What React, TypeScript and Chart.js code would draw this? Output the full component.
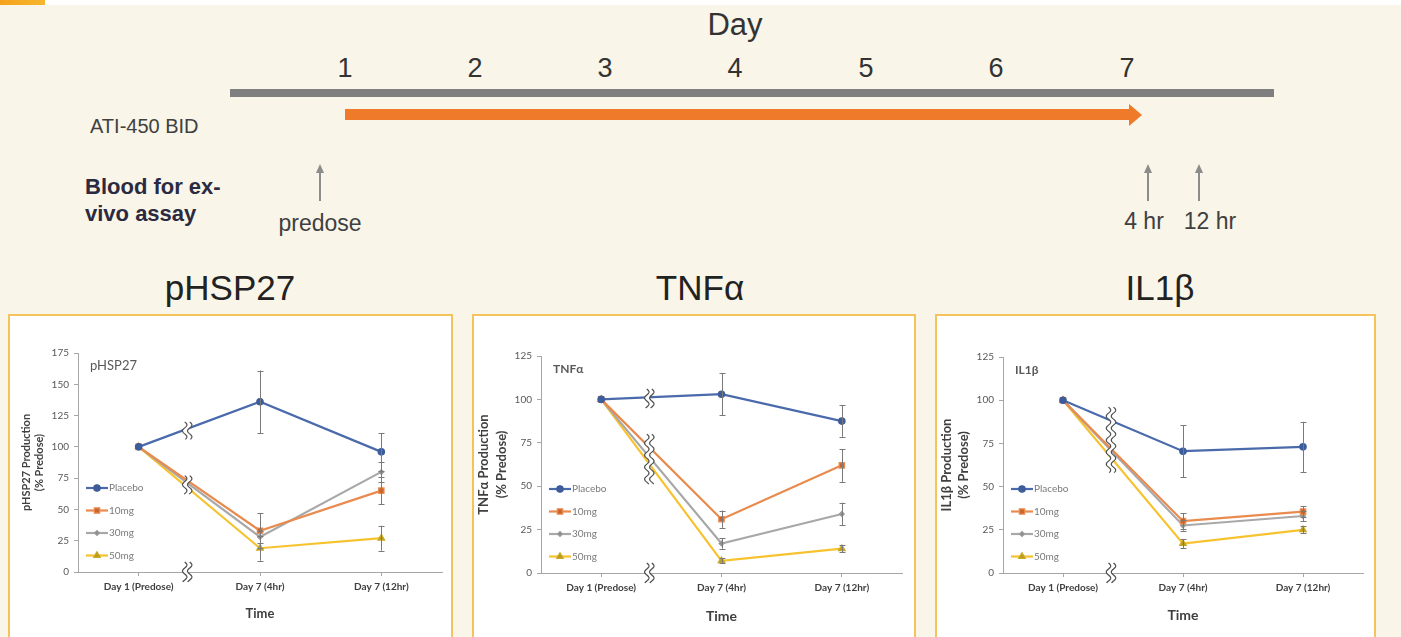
import React, { useEffect, useRef } from 'react';
import { Chart, registerables } from 'chart.js';
import { drawPoint } from 'chart.js/helpers';

Chart.register(...registerables);

// ---------- data ----------
const timePoints = ['Day 1 (Predose)', 'Day 7 (4hr)', 'Day 7 (12hr)'];
const doseGroups = ['Placebo', '10mg', '30mg', '50mg'];
const timelineDays = ['1', '2', '3', '4', '5', '6', '7'];

const pHSP27Placebo = [100, 136, 96];
const pHSP27Dose10 = [100, 33, 65];
const pHSP27Dose30 = [100, 28, 80];
const pHSP27Dose50 = [100, 19, 27];
const pHSP27PlaceboErr = [0, 25, 15];
const pHSP27Dose10Err = [0, 14, 11];
const pHSP27Dose30Err = [0, 5, 8];
const pHSP27Dose50Err = [0, 10, 10];

const tnfPlacebo = [100, 103, 87.5];
const tnfDose10 = [100, 31, 62];
const tnfDose30 = [100, 17, 34];
const tnfDose50 = [100, 7, 14];
const tnfPlaceboErr = [0, 12, 9];
const tnfDose10Err = [0, 5, 9.5];
const tnfDose30Err = [0, 3, 6.5];
const tnfDose50Err = [0, 1.5, 2];

const il1Placebo = [100, 70.5, 73];
const il1Dose10 = [100, 30, 35.5];
const il1Dose30 = [100, 27.5, 33];
const il1Dose50 = [100, 17, 25];
const il1PlaceboErr = [0, 15, 14.5];
const il1Dose10Err = [0, 4.5, 3];
const il1Dose30Err = [0, 3, 3];
const il1Dose50Err = [0, 2.5, 2];

// ---------- styles ----------
const lineColors = ['#4a6aab', '#e98a4e', '#a8a8a8', '#f6c22e'];
const markerFill = ['#3d5c9c', '#c9662e', '#8c8c8c', '#b89c20'];
const markerBorder = ['#3d5c9c', '#ea8c50', '#9a9a9a', '#c9a825'];
const pointStyles = ['circle', 'rect', 'rectRot', 'triangle'];
const pointRadii = [3.2, 3.8, 2.4, 3.8];
const chartFont = 'Lato, "Noto Sans", sans-serif';
const slideFont = '"Liberation Sans", Arial, sans-serif';

type PanelSpec = {
  left: number;
  width: number;
  plotL: number;
  plotR: number;
  plotT: number;
  plotB: number;
  yMax: number;
  innerTitle: string;
  innerBold: boolean;
  innerSize: number;
  yTitle: string[];
  yTitleSize: number;
  yTitleLH: number;
  yTitlePad: number;
  xTitleSize: number;
  xTitlePad: number;
  values: number[][];
  errors: number[][];
  breaks: number[][];
};

const panels: PanelSpec[] = [
  {
    left: 8, width: 445, plotL: 78, plotR: 442, plotT: 353, plotB: 572, yMax: 175,
    innerTitle: 'pHSP27', innerBold: false, innerSize: 13,
    yTitle: ['pHSP27 Production', '(% Predose)'], yTitleSize: 11, yTitleLH: 1.2, yTitlePad: 10,
    xTitleSize: 13, xTitlePad: 15,
    values: [pHSP27Placebo, pHSP27Dose10, pHSP27Dose30, pHSP27Dose50],
    errors: [pHSP27PlaceboErr, pHSP27Dose10Err, pHSP27Dose30Err, pHSP27Dose50Err],
    breaks: [[106, 120], [62, 77]],
  },
  {
    left: 472, width: 444, plotL: 541, plotR: 902, plotT: 356, plotB: 573, yMax: 125,
    innerTitle: 'TNF\u03b1', innerBold: true, innerSize: 12,
    yTitle: ['TNF\u03b1 Production', '(% Predose)'], yTitleSize: 13, yTitleLH: 1.35, yTitlePad: 1,
    xTitleSize: 14, xTitlePad: 12,
    values: [tnfPlacebo, tnfDose10, tnfDose30, tnfDose50],
    errors: [tnfPlaceboErr, tnfDose10Err, tnfDose30Err, tnfDose50Err],
    breaks: [[95, 106], [51, 80]],
  },
  {
    left: 935, width: 441, plotL: 1003, plotR: 1363, plotT: 357, plotB: 573, yMax: 125,
    innerTitle: 'IL1\u03b2', innerBold: true, innerSize: 12,
    yTitle: ['IL1\u03b2 Production', '(% Predose)'], yTitleSize: 13, yTitleLH: 1.3, yTitlePad: 1,
    xTitleSize: 14, xTitlePad: 13,
    values: [il1Placebo, il1Dose10, il1Dose30, il1Dose50],
    errors: [il1PlaceboErr, il1Dose10Err, il1Dose30Err, il1Dose50Err],
    breaks: [[58, 96]],
  },
];

const PANEL_TOP = 314;
const CANVAS_TOP = 316;
const CANVAS_H = 321;
const BREAK_FRAC = 0.4;

function drawBreak(ctx: CanvasRenderingContext2D, x: number, yTop: number, yBot: number) {
  const amp = 2.2;
  const period = 12;
  const gap = 5;
  const curve = (dx: number) => {
    const pts: number[][] = [];
    for (let y = yTop; y <= yBot + 0.01; y += 0.5) {
      pts.push([x + dx + amp * Math.sin(((y - yTop) / period) * 2 * Math.PI), y]);
    }
    return pts;
  };
  const a = curve(-gap / 2);
  const b = curve(gap / 2);
  ctx.save();
  ctx.beginPath();
  a.forEach(([px, py], i) => (i ? ctx.lineTo(px, py) : ctx.moveTo(px, py)));
  for (let i = b.length - 1; i >= 0; i--) ctx.lineTo(b[i][0], b[i][1]);
  ctx.closePath();
  ctx.fillStyle = '#ffffff';
  ctx.fill();
  ctx.strokeStyle = '#4d4d4d';
  ctx.lineWidth = 1.2;
  [a, b].forEach((arr) => {
    ctx.beginPath();
    arr.forEach(([px, py], i) => (i ? ctx.lineTo(px, py) : ctx.moveTo(px, py)));
    ctx.stroke();
  });
  ctx.restore();
}

const decorPlugin = {
  id: 'decor',
  afterDatasetsDraw(chart: any, _args: any, opts: any) {
    const ctx: CanvasRenderingContext2D = chart.ctx;
    const { chartArea } = chart;
    const xs = chart.scales.x;
    const ys = chart.scales.y;
    // error bars
    ctx.save();
    ctx.strokeStyle = '#7a7a7a';
    ctx.lineWidth = 1;
    chart.data.datasets.forEach((ds: any, i: number) => {
      const errs: number[] = opts.errors[i];
      const meta = chart.getDatasetMeta(i);
      ds.data.forEach((v: number, j: number) => {
        const e = errs[j];
        if (!e) return;
        const x = Math.round(meta.data[j].x) + 0.5;
        const y1 = ys.getPixelForValue(v + e);
        const y2 = ys.getPixelForValue(v - e);
        ctx.beginPath();
        ctx.moveTo(x, y1);
        ctx.lineTo(x, y2);
        ctx.moveTo(x - 3, Math.round(y1) + 0.5);
        ctx.lineTo(x + 3, Math.round(y1) + 0.5);
        ctx.moveTo(x - 3, Math.round(y2) + 0.5);
        ctx.lineTo(x + 3, Math.round(y2) + 0.5);
        ctx.stroke();
      });
    });
    ctx.restore();
    // axis breaks
    const x0 = xs.getPixelForValue(0);
    const x1 = xs.getPixelForValue(1);
    const bx = x0 + (x1 - x0) * BREAK_FRAC;
    opts.breaks.forEach(([lo, hi]: number[]) => {
      drawBreak(ctx, bx, ys.getPixelForValue(hi), ys.getPixelForValue(lo));
    });
    drawBreak(ctx, bx, chartArea.bottom - 10, chartArea.bottom + 10);
    // inner title
    ctx.save();
    ctx.fillStyle = '#595959';
    ctx.font = `${opts.innerBold ? 'bold ' : ''}${opts.innerSize}px ${chartFont}`;
    ctx.textBaseline = 'middle';
    ctx.textAlign = 'left';
    ctx.fillText(opts.innerTitle, chartArea.left + 12, chartArea.top + 13);
    ctx.restore();
    // legend
    ctx.save();
    chart.data.datasets.forEach((ds: any, i: number) => {
      const y = chartArea.bottom - 84 + i * 22.5;
      const lx = chartArea.left + 8;
      ctx.strokeStyle = ds.borderColor;
      ctx.lineWidth = 2.2;
      ctx.beginPath();
      ctx.moveTo(lx, y);
      ctx.lineTo(lx + 22, y);
      ctx.stroke();
      ctx.fillStyle = ds.pointBackgroundColor;
      ctx.strokeStyle = ds.pointBorderColor;
      ctx.lineWidth = 1.2;
      drawPoint(ctx, { pointStyle: ds.pointStyle, radius: ds.pointRadius, rotation: 0, borderWidth: 1.2 }, lx + 11, y);
      ctx.fillStyle = '#7a7a7a';
      ctx.font = `10px ${chartFont}`;
      ctx.textBaseline = 'middle';
      ctx.textAlign = 'left';
      ctx.fillText(ds.label, lx + 23, y);
    });
    ctx.restore();
  },
};

function Panel({ spec }: { spec: PanelSpec }) {
  const ref = useRef<HTMLCanvasElement>(null);
  const cl = spec.left + 2;
  const cw = spec.width - 4;
  useEffect(() => {
    if (!ref.current) return;
    const chart = new Chart(ref.current, {
      type: 'line',
      data: {
        labels: timePoints,
        datasets: doseGroups.map((g, i) => ({
          label: g,
          data: spec.values[i],
          borderColor: lineColors[i],
          backgroundColor: markerFill[i],
          pointBackgroundColor: markerFill[i],
          pointBorderColor: markerBorder[i],
          pointStyle: pointStyles[i] as any,
          pointRadius: pointRadii[i],
          pointBorderWidth: 1.2,
          borderWidth: 2.2,
          tension: 0,
        })),
      },
      options: {
        responsive: false,
        animation: false,
        events: [],
        layout: {
          padding: { top: spec.plotT - CANVAS_TOP, right: cl + cw - spec.plotR, left: 0, bottom: 0 },
        },
        plugins: {
          legend: { display: false },
          tooltip: { enabled: false },
          title: { display: false },
          decor: {
            errors: spec.errors,
            breaks: spec.breaks,
            innerTitle: spec.innerTitle,
            innerBold: spec.innerBold,
            innerSize: spec.innerSize,
          },
        } as any,
        scales: {
          x: {
            type: 'category',
            offset: true,
            grid: { drawOnChartArea: false, drawTicks: true, tickLength: 4, color: '#a6a6a6' },
            border: { color: '#a6a6a6', width: 1 },
            ticks: {
              font: { family: chartFont, size: 10, weight: 'bold' },
              color: '#404040',
              padding: 5,
              maxRotation: 0,
              autoSkip: false,
            },
            title: {
              display: true,
              text: 'Time',
              font: { family: chartFont, size: spec.xTitleSize, weight: 'bold' },
              color: '#404040',
              padding: { top: 0, bottom: spec.xTitlePad },
            },
            afterFit: (s: any) => {
              s.height = CANVAS_TOP + CANVAS_H - spec.plotB;
            },
          },
          y: {
            min: 0,
            max: spec.yMax,
            ticks: {
              stepSize: 25,
              font: { family: chartFont, size: 10 },
              color: '#595959',
              padding: 5,
            },
            grid: { drawOnChartArea: false, drawTicks: true, tickLength: 4, color: '#a6a6a6' },
            border: { color: '#a6a6a6', width: 1 },
            title: {
              display: true,
              text: spec.yTitle,
              font: { family: chartFont, size: spec.yTitleSize, weight: 'bold', lineHeight: spec.yTitleLH },
              color: '#404040',
              padding: { top: spec.yTitlePad, bottom: 0 },
            },
            afterFit: (s: any) => {
              s.width = spec.plotL - cl;
            },
          },
        },
      },
      plugins: [decorPlugin],
    });
    return () => chart.destroy();
  }, []);
  return (
    <>
      <div
        style={{
          position: 'absolute',
          left: spec.left,
          top: PANEL_TOP,
          width: spec.width,
          height: 340,
          boxSizing: 'border-box',
          border: '2px solid #f5c35c',
          background: '#ffffff',
        }}
      />
      <canvas
        ref={ref}
        width={cw}
        height={CANVAS_H}
        style={{ position: 'absolute', left: cl, top: CANVAS_TOP, width: cw, height: CANVAS_H }}
      />
    </>
  );
}

function Txt(props: {
  x: number;
  y: number;
  size: number;
  bold?: boolean;
  color?: string;
  align?: 'left' | 'center';
  children: React.ReactNode;
}) {
  const { x, y, size, bold, color, align = 'center', children } = props;
  return (
    <div
      style={{
        position: 'absolute',
        left: x,
        top: y - size * 0.6,
        fontSize: size,
        lineHeight: `${size * 1.2}px`,
        whiteSpace: 'nowrap',
        transform: align === 'center' ? 'translateX(-50%)' : undefined,
        fontWeight: bold ? 700 : 400,
        color: color || '#333333',
        fontFamily: slideFont,
      }}
    >
      {children}
    </div>
  );
}

function UpArrow({ x }: { x: number }) {
  return (
    <>
      <div style={{ position: 'absolute', left: x - 0.75, top: 171, width: 1.5, height: 30, background: '#8c8c8c' }} />
      <div
        style={{
          position: 'absolute',
          left: x - 4,
          top: 164,
          width: 0,
          height: 0,
          borderLeft: '4px solid transparent',
          borderRight: '4px solid transparent',
          borderBottom: '9px solid #8c8c8c',
        }}
      />
    </>
  );
}

const dayX = [345, 475, 605, 735, 866, 996, 1127];

export default function App() {
  return (
    <div
      style={{
        position: 'absolute',
        left: 0,
        top: 0,
        width: 1401,
        height: 637,
        overflow: 'hidden',
        background: '#f9f5e8',
        fontFamily: slideFont,
      }}
    >
      <div style={{ position: 'absolute', left: 0, top: 0, width: 1401, height: 5, background: '#ffffff' }} />
      <div
        style={{
          position: 'absolute',
          left: 0,
          top: 0,
          width: 45,
          height: 5,
          background: 'linear-gradient(90deg, #f5a21c, #f7b52e)',
        }}
      />
      <Txt x={735} y={25} size={31}>Day</Txt>
      {timelineDays.map((d, i) => (
        <Txt key={d} x={dayX[i]} y={68} size={27}>
          {d}
        </Txt>
      ))}
      <div style={{ position: 'absolute', left: 230, top: 89, width: 1044, height: 8, background: '#7f7f7f' }} />
      <div style={{ position: 'absolute', left: 345, top: 109, width: 786, height: 11, background: '#ef7a2a' }} />
      <div
        style={{
          position: 'absolute',
          left: 1129,
          top: 104,
          width: 0,
          height: 0,
          borderTop: '11px solid transparent',
          borderBottom: '11px solid transparent',
          borderLeft: '13px solid #ef7a2a',
        }}
      />
      <Txt x={90} y={126} size={20} align="left" color="#404040">ATI-450 BID</Txt>
      <Txt x={85} y={187} size={22} bold align="left" color="#2b2a40">Blood for ex-</Txt>
      <Txt x={85} y={214} size={22} bold align="left" color="#2b2a40">vivo assay</Txt>
      <UpArrow x={320} />
      <UpArrow x={1148} />
      <UpArrow x={1199} />
      <Txt x={320} y={224} size={23} color="#404040">predose</Txt>
      <Txt x={1144} y={222} size={23} color="#404040">4 hr</Txt>
      <Txt x={1210} y={222} size={23} color="#404040">12 hr</Txt>
      <Txt x={230} y={288} size={35} color="#222222">pHSP27</Txt>
      <Txt x={700} y={288} size={35} color="#222222">TNF&alpha;</Txt>
      <Txt x={1160} y={288} size={35} color="#222222">IL1&beta;</Txt>
      {panels.map((p, i) => (
        <Panel key={i} spec={p} />
      ))}
    </div>
  );
}
